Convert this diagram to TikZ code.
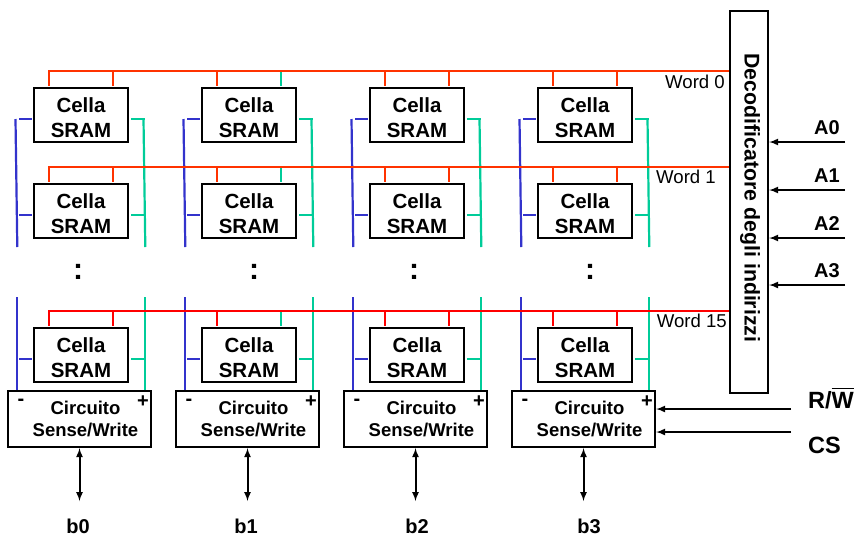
\documentclass[tikz,border=0pt]{standalone}
\usepackage{amsmath}
\usepackage{fontspec}
\setmainfont{Liberation Sans}
\definecolor{wordorange}{HTML}{FF3300}
\definecolor{wordred}{HTML}{FF0000}
\definecolor{bitblue}{HTML}{3333CC}
\definecolor{bitgreen}{HTML}{00CC99}
\tikzset{
  cella/.style={draw,line width=2.4pt,minimum width=94pt,minimum height=54pt,inner sep=0pt},
  cellatext/.style={align=center,inner sep=0pt,font=\fontsize{20.5}{25}\selectfont\bfseries},
  sensebox/.style={draw,line width=2.4pt,minimum width=143pt,minimum height=56pt,inner sep=0pt},
  sensetext/.style={align=center,inner sep=0pt,font=\fontsize{18.5}{22}\selectfont\bfseries},
  bold20/.style={inner sep=0pt,font=\fontsize{20}{24}\selectfont\bfseries},
  bold23/.style={inner sep=0pt,anchor=west,font=\fontsize{23.5}{26}\selectfont\bfseries},
  wordtext/.style={inner sep=0pt,anchor=east,font=\fontsize{18.6}{22}\selectfont},
  wire/.style={line width=2.2pt},
  blackwire/.style={line width=2pt,black}
}
\begin{document}
\begin{tikzpicture}[x=1pt,y=-1pt]
  \useasboundingbox (0,0) rectangle (856,536);
  % decoder
  \node[draw,line width=2.4pt,minimum width=38pt,minimum height=382pt,inner sep=0pt] (dec) at (749,202) {};
  \node[bold20,font=\fontsize{21.3}{24}\selectfont\bfseries,rotate=-90] (dectext) at (750,198) {Decodificatore degli indirizzi};
  % sense/write circuits, bit lines and data pins
  \foreach \c/\sx/\bx/\colx in {0/0/78/78,1/168/246/254,2/336/417/414,3/504/589/590}{
    \node[sensebox] (sense\c) at (\sx+79.5,419) {};
    \node[sensetext] (sensetext\c) at (\sx+85.5,419) {Circuito\\Sense/Write};
    \node[bold20] (minus\c) at (\sx+21,402) {-};
    \node[bold20] (plus\c) at (\sx+143,402) {+};
    \coordinate (pin\c) at (\sx+79.5,501);
    \draw[blackwire,latex-latex] (sense\c.south) -- (pin\c); % data line
    \node[bold20] (b\c) at (\bx,526) {b\c};
    \node[bold20,font=\fontsize{30}{30}\selectfont\bfseries] (dots\c) at (\colx,272) {:};
    \coordinate (bluetop\c) at (\sx+17.3,297);
    \coordinate (greentop\c) at (\sx+145.3,297);
    \draw[wire,bitblue] (\sx+15.5,119) -- (\sx+17.3,247); % upper bit line
    \draw[wire,bitblue] (bluetop\c) -- (bluetop\c |- sense\c.north); % lower bit line
    \draw[wire,bitgreen] (\sx+143.5,119) -- (\sx+145.3,247);
    \draw[wire,bitgreen] (greentop\c) -- (greentop\c |- sense\c.north);
  }
  % cells and word lines
  \foreach \r/\y/\wcol in {0/88/wordorange,1/184/wordorange,15/328/wordred}{
    \colorlet{wordcol}{\wcol}
    \foreach \c/\sx/\tapcol in {0/0/wordcol,1/168/bitgreen,2/336/wordcol,3/504/wordcol}{
      \node[cella] (cell\c r\r) at (\sx+81,\y+27) {};
      \node[cellatext] (celltext\c r\r) at (\sx+81,\y+30) {Cella\\SRAM};
      \path (cell\c r\r.north west) +(16.5,-1) coordinate (tapa\c r\r) +(80.5,-1) coordinate (tapb\c r\r);
      \path (cell\c r\r.west) +(-1,4) coordinate (blue\c r\r);
      \path (cell\c r\r.east) +(2,4) coordinate (green\c r\r);
      \draw[wire,wordcol] (tapa\c r\r) -- +(0,-15); % tap to word line
      \draw[wire,\tapcol] (tapb\c r\r) -- +(0,-15);
      \draw[wire,bitblue] (blue\c r\r) -- +(-13,0); % tap to bit line
      \draw[wire,bitgreen] (green\c r\r) -- +(13.5,0);
    }
    \path (tapa0r\r) +(-1.1,-15) coordinate (wordstart\r);
    \coordinate (wordend\r) at (wordstart\r -| dec.west);
    \draw[wire,wordcol] (wordstart\r) -- (wordend\r); % word line
  }
  \node[wordtext] (word0) at (725,82) {Word 0};
  \node[wordtext] (word1) at (716,177) {Word 1};
  \node[wordtext] (word15) at (727,321) {Word 15};
  % address inputs
  \foreach \n/\y in {0/142,1/190,2/238,3/285}{
    \coordinate (addr\n) at (845,\y);
    \draw[blackwire,-latex] (addr\n) -- (addr\n -| dec.east);
    \node[bold20] (alabel\n) at (827,\y-14) {A\n};
  }
  % control inputs
  \coordinate (rwin) at (791,409);
  \coordinate (csin) at (791,432);
  \draw[blackwire,-latex] (rwin) -- (rwin -| sense3.east);
  \draw[blackwire,-latex] (csin) -- (csin -| sense3.east);
  \node[bold23] (rwlabel) at (808,398) {R/$\overline{\mbox{W}}$};
  \node[bold23] (cslabel) at (808,445) {CS};
\end{tikzpicture}
\end{document}
